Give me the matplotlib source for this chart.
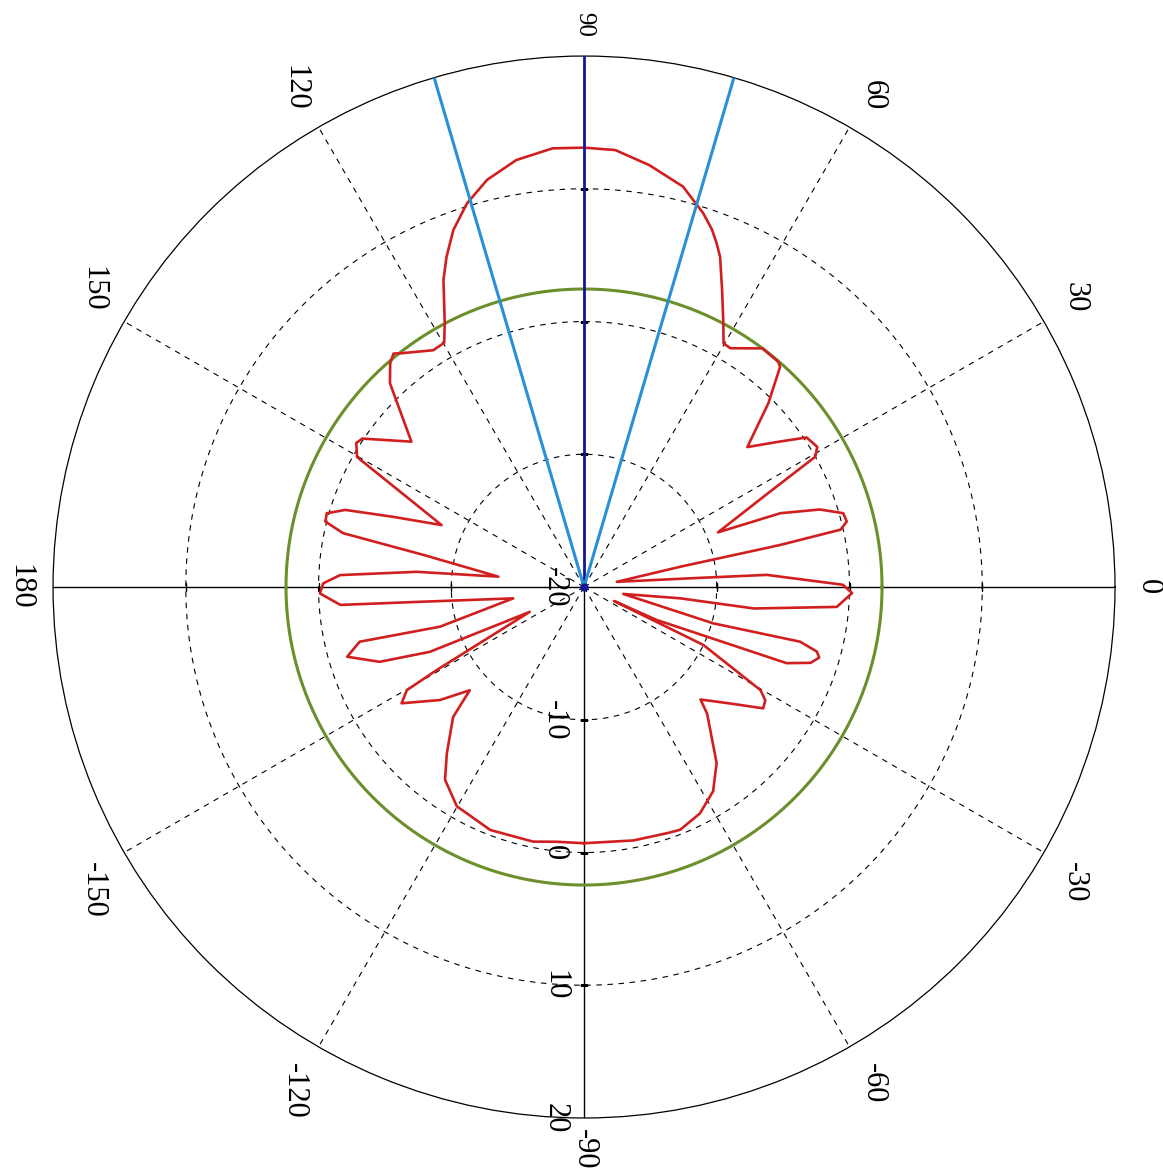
import numpy as np
import matplotlib
matplotlib.use("Agg")
import matplotlib.pyplot as plt

# ---------------- data ----------------
# red radiation pattern: angle (deg) and gain (dB), traced counter-clockwise from -90 deg
theta_deg = [
    -90, -79, -71.4, -68.4, -62.9, -57.7, -53, -45.8, -44, -38.5,
    -34.1, -32, -30.3, -25.9, -25, -24.4, -20.6, -18.5, -16.7, -15.5,
    -14.2, -15.7, -10, -6.7, -7.2, -4.5, -1.3, 0.5, 3.8, 4.7,
    9, 11.9, 12.1, 12.6, 14, 15.9, 18.2, 20.6, 22.2, 26.9,
    29.4, 31, 33.9, 36.9, 40.6, 44.9, 48.3, 49.2, 53.2, 58.5,
    60.2, 62.2, 65.1, 67.6, 68.9, 70.3, 72.3, 76.1, 81.2, 85.9, 90,
    94.1, 99.0, 103.4, 107, 110.1, 112.6, 114.6, 117.8, 119.8, 122.5, 128.2, 129.2,
    130.9, 133.6, 139.9, 146.2, 147.7, 150.2, 152.6, 156.5, 159.8, 162.1,
    164, 165.8, 167.4, 168.7, 173.1, 174.8, 177.2, 179.2, 181.4, 184.2,
    185.2, 189.1, 195.4, 193.7, 196.4, 200.1, 202.8, 204.6, 209.4, 210.2,
    212.5, 218.1, 222.1, 224.8, 230.5, 234.2, 239.9, 242.6, 248.9, 258.7,
    263.9, 270,
]
gain_db = [
    -0.7, -0.55, -0.43, -0.33, -0.84, -1.8, -3.4, -6.7, -7.8, -5.9,
    -3.7, -3.9, -4.6, -10, -17.5, -14, -3.7, -2.0, -1.5, -1.8,
    -3.2, -9.9, -17, -12.7, -7.1, -0.9, 0.2, -0.5, -6.2, -12,
    -17.5, -12.6, -4.9, -0.2, 0.4, 0.3, -1.3, -4.2, -9.1, -4.6,
    0.0, 0.5, 0.2, -1.8, -3.8, -0.4, 2.2, 2.4, 2.45, 1.1,
    1.15, 2.5, 4.7, 6.9, 7.75, 8.6, 9.55, 11.07, 12.16, 13.0, 13.1,
    13.13, 12.57, 11.53, 10.2, 8.64, 6.95, 5.44, 2.5, 1.2, 1.15, 2.4, 2.7,
    2.3, 1.2, -3.0, 0.1, 0.3, -0.3, -4.4, -8.3, -4.7, -1.1,
    0.16, 0.1, -1.4, -7.7, -13.5, -7.35, -1.6, -0.35, -0.1, -1.6,
    -7.8, -14.6, -8.75, -2.6, -1.4, -3.6, -7.4, -15.5, -7.3, -4.56,
    -3.7, -6.2, -8.4, -6.1, -3.75, -2.1, -0.9, -0.8, -0.38, -0.44,
    -0.7, -0.7,
]

green_level = 2.45              # reference circle (dB)
beam_center = 90                # dark blue line (deg)
beam_edges = [73.6, 106.4]      # light blue lines (deg)

r_min, r_max = -20, 20
ring_values = [-10, 0, 10]
spoke_angles = [30, 60, 120, 150, -30, -60, -120, -150]
axis_angles = [0, 180, -90]
angle_labels = [0, 30, 60, 90, 120, 150, 180, -150, -120, -90, -60, -30]
radial_labels = [-20, -10, 0, 10, 20]

# ---------------- figure ----------------
FONT = ["Liberation Serif", "DejaVu Serif"]
fig = plt.figure(figsize=(11.63, 11.72), dpi=100)
ax = fig.add_axes([0.04557, 0.04608, 0.9132, 0.9061], projection="polar")
ax.set_ylim(r_min, r_max)
ax.grid(False)
ax.set_yticks([])
ax.set_xticks(np.deg2rad(np.arange(0, 360, 30)))
ax.set_xticklabels([])
ax.tick_params(axis="x", direction="in", length=5, width=1, colors="black")
ax.spines["polar"].set_linewidth(0.9)
ax.spines["polar"].set_color("black")

full = np.linspace(0, 2 * np.pi, 721)
dash = (0, (5, 5))

# dashed rings
for v in ring_values:
    ax.plot(full, np.full_like(full, v), color="black", lw=0.8, ls=dash, zorder=1)

# dashed spokes
for a in spoke_angles:
    ax.plot([np.deg2rad(a)] * 2, [r_min, r_max], color="black", lw=0.8, ls=dash, zorder=1)

# solid axis lines
for a in axis_angles:
    ax.plot([np.deg2rad(a)] * 2, [r_min, r_max], color="black", lw=1.0, zorder=1)

# small ticks on the axis lines at ring radii
for v in ring_values:
    ax.plot([0, np.pi], [v, v], ls="none", marker="|", ms=6, mew=1.0, color="black", zorder=2)
    ax.plot([np.pi / 2, -np.pi / 2], [v, v], ls="none", marker="_", ms=6, mew=1.0,
            color="black", zorder=2)

# green reference circle
ax.plot(full, np.full_like(full, green_level), color="#6c8f2b", lw=2.2, zorder=3)

# red pattern
ax.plot(np.deg2rad(theta_deg), gain_db, color="#d11f1f", lw=1.9, zorder=4,
        solid_joinstyle="round")

# beam lines
ax.plot([np.deg2rad(beam_center)] * 2, [r_min, r_max], color="#14149a", lw=2.0, zorder=5)
for a in beam_edges:
    ax.plot([np.deg2rad(a)] * 2, [r_min, r_max], color="#2a8fd6", lw=2.2, zorder=5)
ax.plot([np.deg2rad(beam_center)], [r_min], marker="o", ms=5, color="#14149a", zorder=6)

# angle labels (rotated like the reference)
span = r_max - r_min
r_lab = r_max + (550 - 531) / 531 * span
for a in angle_labels:
    c, s = np.cos(np.deg2rad(a)), np.sin(np.deg2rad(a))
    ha = "left" if c > 0.1 else ("right" if c < -0.1 else "center")
    va = "bottom" if s > 0.1 else ("top" if s < -0.1 else "center")
    fs = 18 if a == 90 else 22
    r_here = r_lab
    if a == -90:
        # bottom label sits against the lower edge of the picture
        va = "center"
        r_here = r_max + (562 - 531) / 531 * span
    ax.text(np.deg2rad(a), r_here, str(a), rotation=-90, ha=ha, va=va,
            fontsize=fs, family=FONT, clip_on=False)

# radial labels along the -90 axis
for v in radial_labels:
    ax.annotate(str(v), xy=(-np.pi / 2, v), xytext=(-21, 0), textcoords="offset points",
                rotation=-90, ha="center", va="center", fontsize=22, family=FONT,
                annotation_clip=False)

fig.savefig("out.png", dpi=100, facecolor="white")
